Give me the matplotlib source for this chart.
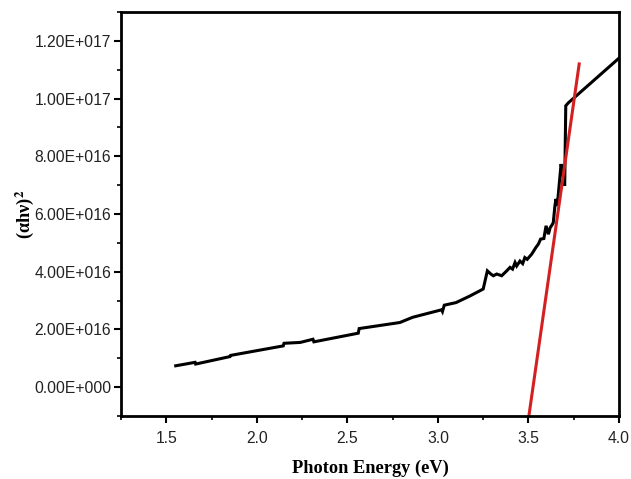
import numpy as np
import matplotlib
matplotlib.use('Agg')
import matplotlib.pyplot as plt
from matplotlib.ticker import MultipleLocator

# Tauc curve (photon energy in eV, (alpha h nu)^2)
energy = [1.552, 1.659, 1.662, 1.852, 1.855, 2.146, 2.150, 2.24, 2.31, 2.315,
          2.56, 2.565, 2.79, 2.86, 3.02, 3.025, 3.035, 3.10, 3.177, 3.25,
          3.273, 3.292, 3.306, 3.325, 3.352, 3.38, 3.398, 3.412, 3.426, 3.435,
          3.453, 3.468, 3.48, 3.493, 3.518, 3.541, 3.555, 3.567, 3.585, 3.597,
          3.61, 3.62, 3.629, 3.637, 3.646, 3.652, 3.659, 3.68, 3.69, 3.70,
          3.706, 3.72, 4.0]
alpha_hv2 = [7.4e15, 8.6e15, 8.0e15, 1.06e16, 1.10e16, 1.43e16, 1.52e16, 1.55e16, 1.66e16, 1.57e16,
             1.87e16, 2.03e16, 2.24e16, 2.42e16, 2.68e16, 2.62e16, 2.84e16, 2.93e16, 3.16e16, 3.40e16,
             4.03e16, 3.92e16, 3.86e16, 3.92e16, 3.86e16, 4.03e16, 4.15e16, 4.09e16, 4.32e16, 4.20e16,
             4.37e16, 4.28e16, 4.49e16, 4.43e16, 4.61e16, 4.84e16, 4.96e16, 5.13e16, 5.15e16, 5.59e16,
             5.30e16, 5.53e16, 5.61e16, 5.70e16, 6.28e16, 6.52e16, 6.28e16, 7.73e16, 7.35e16, 6.98e16,
             9.75e16, 9.85e16, 1.14e17]

# linear fit to the absorption edge
band_gap = 3.525
edge_slope = 4.39e17
fit_y = np.array([-2e16, 1.12e17])
fit_x = band_gap + fit_y / edge_slope

plt.rcParams['font.family'] = ['Liberation Sans', 'DejaVu Sans']
plt.rcParams['mathtext.fontset'] = 'stix'

fig = plt.figure(figsize=(6.31, 4.79), dpi=100)
ax = fig.add_axes([0.1918, 0.1315, 0.7892, 0.8435])

ax.plot(energy, alpha_hv2, color='black', lw=2.2, solid_joinstyle='miter')
ax.plot(fit_x, fit_y, color='#d42020', lw=2.2)

ax.set_xlim(1.25, 4.0)
ax.set_ylim(-1e16, 1.3e17)
ax.xaxis.set_minor_locator(MultipleLocator(0.25))
ax.yaxis.set_minor_locator(MultipleLocator(1e16))
ax.set_xticks([1.5, 2.0, 2.5, 3.0, 3.5, 4.0])
ax.set_xticklabels(['1.5', '2.0', '2.5', '3.0', '3.5', '4.0'])
ax.set_yticks([0, 2e16, 4e16, 6e16, 8e16, 1e17, 1.2e17])
ax.set_yticklabels(['0.00E+000', '2.00E+016', '4.00E+016', '6.00E+016',
                    '8.00E+016', '1.00E+017', '1.20E+017'])

for s in ax.spines.values():
    s.set_linewidth(2.0)
ax.tick_params(which='major', direction='out', length=5, width=1.5,
               labelsize=11.3, labelcolor='#222222')
ax.tick_params(axis='x', which='major', pad=6)
ax.tick_params(axis='y', which='major', pad=2)
ax.tick_params(which='minor', direction='out', length=3, width=1.2)

ax.set_xlabel('Photon Energy (eV)', family='Liberation Serif', fontweight='bold',
              fontsize=13.2, labelpad=10)
ax.set_ylabel(r'(αhν)$^{\mathbf{2}}$', family='Liberation Serif', fontweight='bold',
              fontsize=13.2, labelpad=-1)

fig.savefig('out.png', dpi=100)
